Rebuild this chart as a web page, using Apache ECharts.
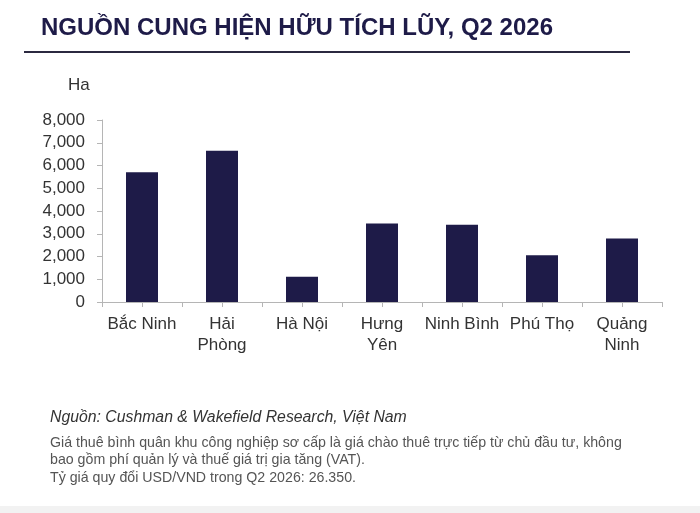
<!DOCTYPE html>
<html>
<head>
<meta charset="utf-8">
<script src="https://cdn.jsdelivr.net/npm/echarts@6/dist/echarts.min.js"></script>
<style>
  html, body { margin: 0; padding: 0; background: #fff; }
  #chart { width: 700px; height: 513px; }
</style>
</head>
<body>
<div id="chart"></div>
<script>
// Data
const provinces = ['Bắc Ninh', 'Hải\nPhòng', 'Hà Nội', 'Hưng\nYên', 'Ninh Bình', 'Phú Thọ', 'Quảng\nNinh']
const supplyHa = [5700, 6650, 1110, 3450, 3400, 2060, 2790]
const yTicks = { min: 0, max: 8000, interval: 1000 }

const titleText = 'NGUỒN CUNG HIỆN HỮU TÍCH LŨY, Q2 2026'
const sourceText = 'Nguồn: Cushman & Wakefield Research, Việt Nam'
const noteLines = [
  'Giá thuê bình quân khu công nghiệp sơ cấp là giá chào thuê trực tiếp từ chủ đầu tư, không',
  'bao gồm phí quản lý và thuế giá trị gia tăng (VAT).',
  'Tỷ giá quy đổi USD/VND trong Q2 2026: 26.350.',
]

const navy = '#1e1b48'
const axisGray = '#b5b5b5'
const font = '"Liberation Sans", Arial, sans-serif'

const chart = echarts.init(document.getElementById('chart'))

chart.setOption({
  backgroundColor: '#ffffff',
  animation: false,
  textStyle: { fontFamily: font },
  grid: { left: 102, right: 38, top: 120, bottom: 211 },
  xAxis: [
    {
      type: 'category',
      data: provinces,
      axisLine: { lineStyle: { color: axisGray, width: 1 } },
      axisTick: { show: true, length: 5, lineStyle: { color: axisGray } },
      axisLabel: {
        interval: 0, margin: 12, color: '#333', fontSize: 17,
        lineHeight: 21, fontFamily: font,
      },
    },
    {
      // centre ticks only, same axis position
      type: 'category',
      data: provinces,
      position: 'bottom',
      axisLine: { show: false },
      axisTick: { show: true, alignWithLabel: true, length: 5, lineStyle: { color: axisGray } },
      axisLabel: { show: false },
    },
  ],
  yAxis: {
    type: 'value',
    min: yTicks.min,
    max: yTicks.max,
    interval: yTicks.interval,
    axisLine: { show: true, lineStyle: { color: axisGray } },
    axisTick: { show: true, length: 5, lineStyle: { color: axisGray } },
    splitLine: { show: false },
    axisLabel: {
      margin: 17, color: '#333', fontSize: 17, fontFamily: font,
      formatter: v => v.toLocaleString('en-US'),
    },
  },
  series: [
    {
      type: 'bar',
      data: supplyHa,
      barWidth: 32,
      itemStyle: { color: navy },
    },
  ],
  graphic: [
    {
      type: 'text', left: 41, top: 16,
      style: { text: titleText, fill: navy, font: 'bold 24px ' + font },
    },
    {
      type: 'rect', shape: { x: 24, y: 51, width: 606, height: 2 },
      style: { fill: '#2b2940' },
    },
    {
      type: 'text', left: 68, top: 77,
      style: { text: 'Ha', fill: '#333', font: '17px ' + font },
    },
    {
      type: 'text', left: 50, top: 410,
      style: { text: sourceText, fill: '#333', font: 'italic 15.8px ' + font },
    },
    {
      type: 'text', left: 50, top: 434,
      style: {
        text: noteLines.join('\n'), fill: '#555', font: '14.2px ' + font,
        lineHeight: 17.5,
      },
    },
    {
      type: 'rect', shape: { x: 0, y: 506, width: 700, height: 7 },
      style: { fill: '#f2f2f2' },
    },
  ],
})
</script>
</body>
</html>
